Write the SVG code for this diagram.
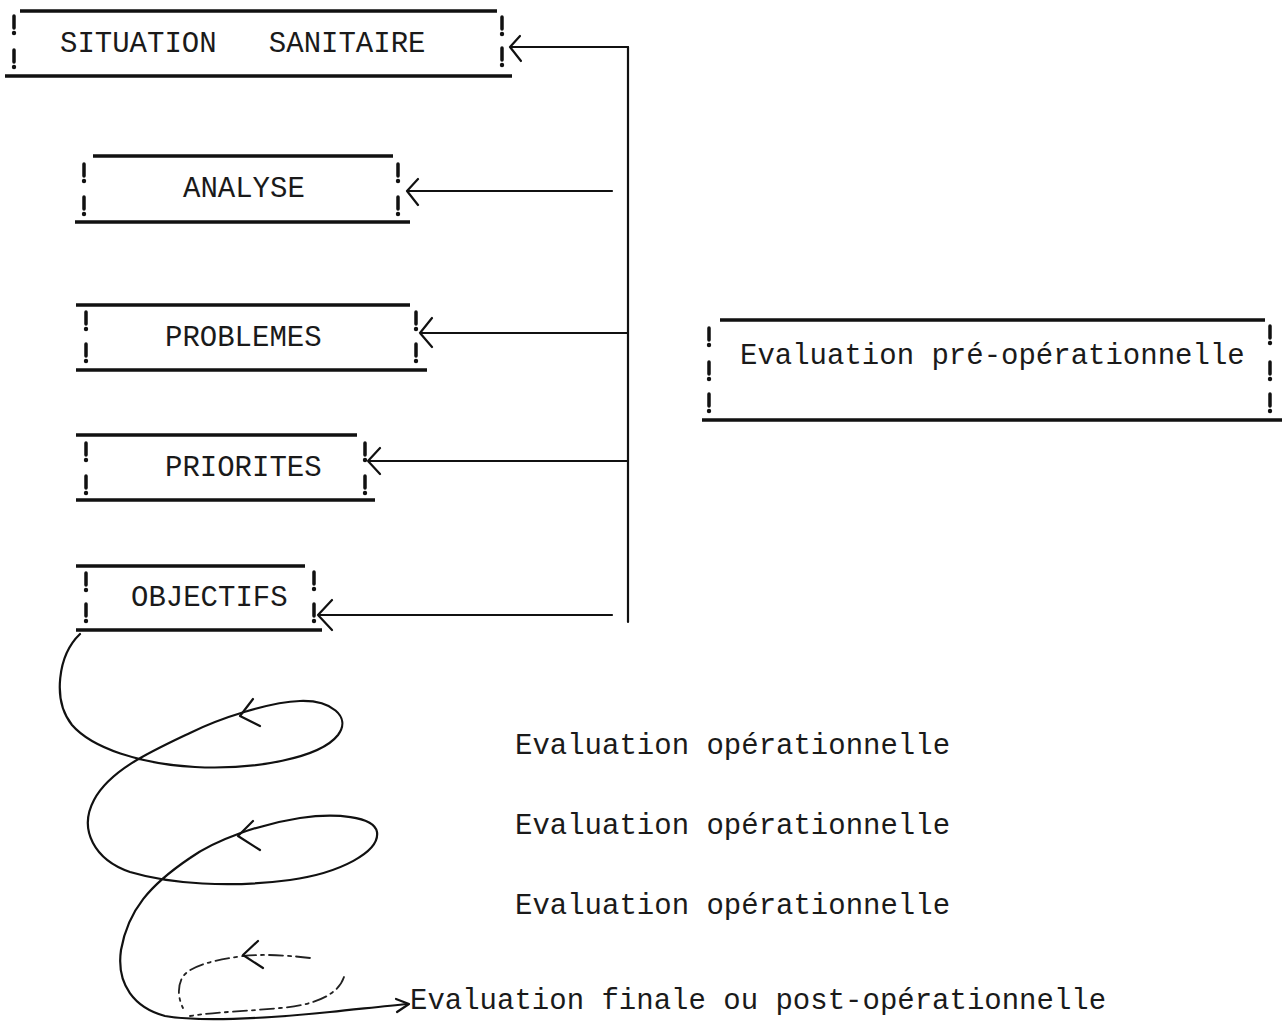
<svg xmlns="http://www.w3.org/2000/svg" width="1287" height="1032" viewBox="0 0 1287 1032">
<style>
.t{font-family:"Liberation Mono","Courier New",monospace;font-size:29px;fill:#1a1a1a;white-space:pre}
.rule{stroke:#111;stroke-width:3.5;fill:none;stroke-linecap:butt}
.con{stroke:#111;stroke-width:2.2;fill:none;stroke-linecap:round;stroke-linejoin:round}
.sp{stroke:#111;stroke-width:2.2;fill:none;stroke-linecap:round;stroke-linejoin:round}
.dash{stroke:#222;stroke-width:1.8;fill:none;stroke-dasharray:14 5 3 5;stroke-linecap:round}
</style>
<defs>
<g id="bang">
<path d="M0,-9 V3" stroke="#111" stroke-width="3.5" stroke-linecap="round"/>
<circle cx="0" cy="8" r="2.2" fill="#111"/>
</g>
</defs>
<rect width="1287" height="1032" fill="#fff"/>

<g id="situation">
<path class="rule" d="M20,11 H497 M5,76 H512"/>
<use href="#bang" x="14" y="25"/><use href="#bang" x="14" y="59"/>
<use href="#bang" x="502" y="26"/><use href="#bang" x="502" y="57"/>
<text class="t" x="60" y="52" xml:space="preserve">SITUATION   SANITAIRE</text>
</g>

<g id="analyse">
<path class="rule" d="M93,156 H393 M75,222 H410"/>
<use href="#bang" x="84" y="173"/><use href="#bang" x="84" y="206"/>
<use href="#bang" x="398" y="173"/><use href="#bang" x="398" y="206"/>
<text class="t" x="183" y="197">ANALYSE</text>
</g>

<g id="problemes">
<path class="rule" d="M76,305 H410 M76,370 H427"/>
<use href="#bang" x="86" y="321"/><use href="#bang" x="86" y="353"/>
<use href="#bang" x="416" y="321"/><use href="#bang" x="416" y="353"/>
<text class="t" x="165" y="346">PROBLEMES</text>
</g>

<g id="priorites">
<path class="rule" d="M76,435 H357 M76,500 H375"/>
<use href="#bang" x="86" y="452"/><use href="#bang" x="86" y="485"/>
<use href="#bang" x="365" y="452"/><use href="#bang" x="365" y="485"/>
<text class="t" x="165" y="476">PRIORITES</text>
</g>

<g id="objectifs">
<path class="rule" d="M76,566 H305 M76,630 H322"/>
<use href="#bang" x="86" y="582"/><use href="#bang" x="86" y="613"/>
<use href="#bang" x="314" y="581"/><use href="#bang" x="314" y="613"/>
<text class="t" x="131" y="606">OBJECTIFS</text>
</g>

<g id="eval-pre">
<path class="rule" d="M720,320 H1265 M702,420 H1282"/>
<use href="#bang" x="709" y="337"/><use href="#bang" x="709" y="371"/><use href="#bang" x="709" y="403"/>
<use href="#bang" x="1270" y="335"/><use href="#bang" x="1270" y="371"/><use href="#bang" x="1270" y="403"/>
<text class="t" x="740" y="364">Evaluation pré-opérationnelle</text>
</g>

<g id="eval-op-1"><text class="t" x="515" y="754">Evaluation opérationnelle</text></g>
<g id="eval-op-2"><text class="t" x="515" y="834">Evaluation opérationnelle</text></g>
<g id="eval-op-3"><text class="t" x="515" y="914">Evaluation opérationnelle</text></g>
<g id="eval-finale"><text class="t" x="410" y="1009">Evaluation finale ou post-opérationnelle</text></g>

<g id="connectors">
<path class="con" d="M628,47 V622"/>
<path class="con" d="M628,47 H512 M520,36 L510,47 L521,61"/>
<path class="con" stroke-width="3.5" d="M612,191 H408 M418,179 L407,191 L418,205"/>
<path class="con" d="M628,333 H420 M432,318 L420,333 L432,347"/>
<path class="con" d="M628,461 H368 M380,448 L368,461 L380,474"/>
<path class="con" d="M612,615 H318 M332,600 L318,615 L332,630"/>

<path class="sp" d="M80,634 C58,655 52,700 72,725 C92,748 140,764 195,767 C255,770 320,758 338,735 C352,716 330,700 300,701 C270,702 220,718 190,733 C150,752 110,770 94,800 C78,830 95,860 130,872 C170,884 230,888 290,880 C340,873 380,852 377,832 C374,816 335,813 300,818 C260,824 215,840 190,858 C150,885 128,910 121,950 C116,985 135,1008 165,1016 C200,1022 270,1018 330,1012 C360,1009 385,1006 408,1004"/>
<path class="sp" d="M396,999 L409,1004 L397,1012"/>
<path class="sp" d="M253,699 L240,716 L260,726"/>
<path class="sp" d="M253,821 L238,836 L260,850"/>
<path class="dash" d="M310,958 C285,955 262,954 243,956 C215,960 190,965 182,978 C176,990 180,1002 183,1008"/>
<path class="dash" d="M344,977 C338,995 315,1005 280,1008 C250,1011 215,1012 190,1016"/>
<path class="sp" stroke-width="1.6" d="M258,941 L243,955 L263,968"/>
</g>
</svg>
